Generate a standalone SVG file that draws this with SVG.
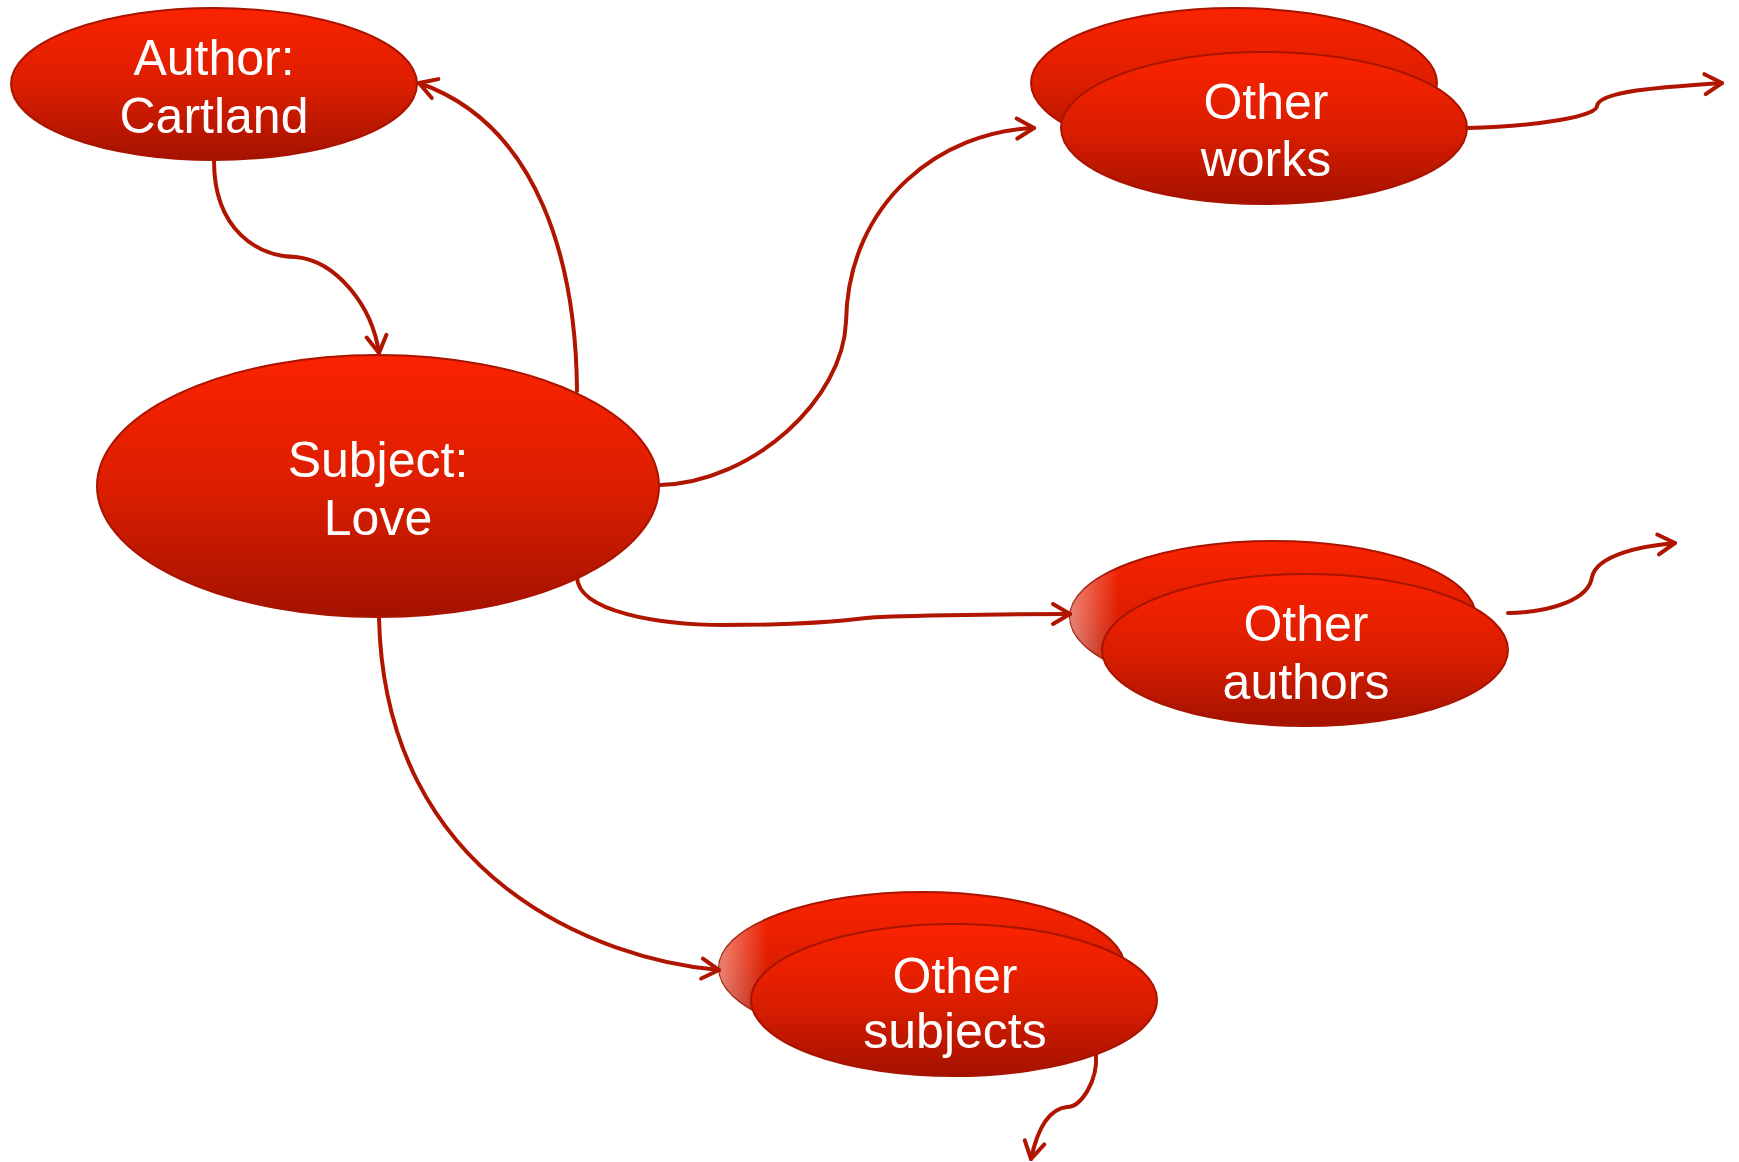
<svg xmlns="http://www.w3.org/2000/svg" width="1739" height="1162" viewBox="0 0 1739 1162">
<style>
.node{fill:url(#redGrad);stroke:#a81400;stroke-width:2}
.rim{fill:url(#rimGrad);stroke:none}
.lbl{font-family:"Liberation Sans",Arial,sans-serif;font-size:50px;fill:#ffffff;text-anchor:middle}
.conn{fill:none;stroke:#b01500;stroke-width:4;stroke-linecap:round;stroke-linejoin:round}
</style>
<defs>
<linearGradient id="redGrad" x1="0" y1="0" x2="0" y2="1">
<stop offset="0" stop-color="#fb2300"/>
<stop offset="0.5" stop-color="#dc1e00"/>
<stop offset="1" stop-color="#a41200"/>
</linearGradient>
<linearGradient id="rimGrad" x1="0" y1="0" x2="1" y2="0">
<stop offset="0" stop-color="#ffffff" stop-opacity="0.45"/>
<stop offset="0.12" stop-color="#ffffff" stop-opacity="0"/>
</linearGradient>
<marker id="arrow" viewBox="-22 -13 26 26" refX="0" refY="0" markerWidth="26" markerHeight="26" markerUnits="userSpaceOnUse" orient="auto">
<path d="M-17,-10 L0,0 L-17,10" fill="none" stroke="#b01500" stroke-width="4" stroke-linecap="round" stroke-linejoin="round"/>
</marker>
</defs>
<rect width="1739" height="1162" fill="#ffffff"/>

<g id="node-author">
<ellipse class="node" cx="214" cy="84" rx="203" ry="76"/>
<text class="lbl" x="214" y="75">Author:</text>
<text class="lbl" x="214" y="133">Cartland</text>
</g>

<g id="node-subject">
<ellipse class="node" cx="378" cy="486" rx="281" ry="131"/>
<text class="lbl" x="378" y="477">Subject:</text>
<text class="lbl" x="378" y="535">Love</text>
</g>

<g id="node-other-works">
<ellipse class="node" cx="1234" cy="83" rx="203" ry="75"/>
<ellipse class="node" cx="1264" cy="128" rx="203" ry="76"/>
<text class="lbl" x="1266" y="119">Other</text>
<text class="lbl" x="1266" y="176">works</text>
</g>

<g id="node-other-authors">
<ellipse class="node" cx="1273" cy="617" rx="203" ry="76"/>
<ellipse class="rim" cx="1273" cy="617" rx="203" ry="76"/>
<ellipse class="node" cx="1305" cy="650" rx="203" ry="76"/>
<text class="lbl" x="1306" y="641">Other</text>
<text class="lbl" x="1306" y="699">authors</text>
</g>

<g id="node-other-subjects">
<ellipse class="node" cx="922" cy="968" rx="203" ry="76"/>
<ellipse class="rim" cx="922" cy="968" rx="203" ry="76"/>
<ellipse class="node" cx="954" cy="1000" rx="203" ry="76"/>
<text class="lbl" x="955" y="993">Other</text>
<text class="lbl" x="955" y="1048">subjects</text>
</g>

<g id="connectors">
<path class="conn" marker-end="url(#arrow)" d="M214,161 C214,230 258,257 296,257 C336,261 372,305 379,353"/>
<path class="conn" marker-end="url(#arrow)" d="M577,391 C576,265 540,125 419,83"/>
<path class="conn" marker-end="url(#arrow)" d="M660,485 C754,482 843,399 846,322 C848,200 943,131 1034,128"/>
<path class="conn" marker-end="url(#arrow)" d="M577,577 C578,612 660,625 725,625 C800,625 850,620 866,618 C880,616 1000,614 1070,614"/>
<path class="conn" marker-end="url(#arrow)" d="M379,618 C385,880 600,960 719,970"/>
<path class="conn" marker-end="url(#arrow)" d="M1467,128 C1541,126 1597,116 1597,106 C1599,91 1663,87 1722,83"/>
<path class="conn" marker-end="url(#arrow)" d="M1508,613 C1553,612 1589,599 1592,577 C1597,555 1641,546 1675,543"/>
<path class="conn" marker-end="url(#arrow)" d="M1096,1054 C1098,1081 1081,1107 1067,1107 C1048,1109 1037,1131 1031,1159"/>
</g>
</svg>
